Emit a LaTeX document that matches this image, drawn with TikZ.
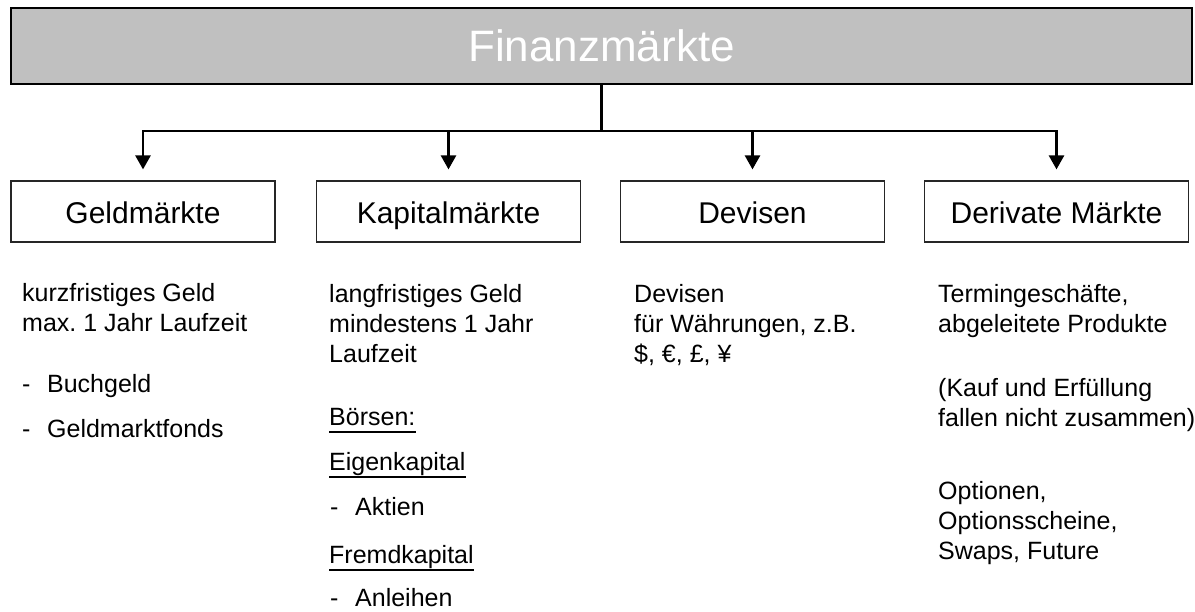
\documentclass[tikz,border=0pt]{standalone}
\usepackage{fontspec}
\setmainfont{Liberation Sans}
\usepackage{xcolor}
\usetikzlibrary{arrows.meta}
\frenchspacing

\definecolor{silber}{HTML}{C0C0C0}

\tikzset{
  markt/.style={draw=black!85, line width=1.2pt, minimum width=264pt, minimum height=61pt,
    inner sep=0pt, text height=30pt, text depth=5pt, font=\fontsize{30}{36}\selectfont},
  txt/.style={anchor=base west, inner sep=0pt, align=left, font=\fontsize{25}{30}\selectfont},
  conn/.style={line width=2.6pt},
  pfeil/.style={conn, -{Triangle[width=15pt,length=14pt]}},
  ulline/.style={line width=1.3pt}
}
\newcommand{\strich}{\makebox[25pt][l]{-}}

\begin{document}
\begin{tikzpicture}[x=1pt,y=-1pt]
\useasboundingbox (0,0) rectangle (1195,612);

% oberer Kasten
\node (fm) at (601.5,46) [draw=black, line width=1.5pt, fill=silber, minimum width=1181pt,
  minimum height=76pt, inner sep=0pt, text=white, font=\fontsize{44}{52}\selectfont] {Finanzmärkte};

% Maerkte
\node (geld) at (143,211.5) [markt] {Geldmärkte};
\node (kapital) at (448.5,211.5) [markt] {Kapitalmärkte};
\node (devisen) at (752.5,211.5) [markt] {Devisen};
\node (derivate) at (1056.5,211.5) [markt] {Derivate Märkte};

\coordinate (bus) at (601.5,131);
\draw[conn] (fm.south) -- (bus);
\foreach \n in {geld,kapital,devisen,derivate}
  \draw[pfeil] (bus) -| ([yshift=11pt]\n.north);

% Geldmaerkte (base = letzte Zeile)
\node (g1) at (22,332) [txt] {kurzfristiges Geld\\max. 1 Jahr Laufzeit};
\node (g2) at (22,438) [txt] {\strich Buchgeld\\[15pt]\strich Geldmarktfonds};

% Kapitalmaerkte
\node (k1) at (329,363) [txt] {langfristiges Geld\\mindestens 1 Jahr\\Laufzeit};
\node (boe) at (329,425) [txt] {Börsen:};
\node (eigen) at (329,470) [txt] {Eigenkapital};
\node (aktien) at (330,515) [txt] {\strich Aktien};
\node (fremd) at (329,563) [txt] {Fremdkapital};
\node (anl) at (330,606) [txt] {\strich Anleihen};
\foreach \u in {boe,eigen,fremd}
  \draw[ulline] ([yshift=-7pt]\u.base west) -- ([yshift=-7pt]\u.base east);

% Devisen
\node (d1) at (634,363) [txt] {Devisen\\für Währungen, z.B.\\\$, €, £, ¥};

% Derivate
\node (t1) at (938,333) [txt] {Termingeschäfte,\\abgeleitete Produkte};
\node (t2) at (938,427) [txt] {(Kauf und Erfüllung\\fallen nicht zusammen)};
\node (t3) at (938,559) [txt] {Optionen,\\Optionsscheine,\\Swaps, Future};

\end{tikzpicture}
\end{document}
